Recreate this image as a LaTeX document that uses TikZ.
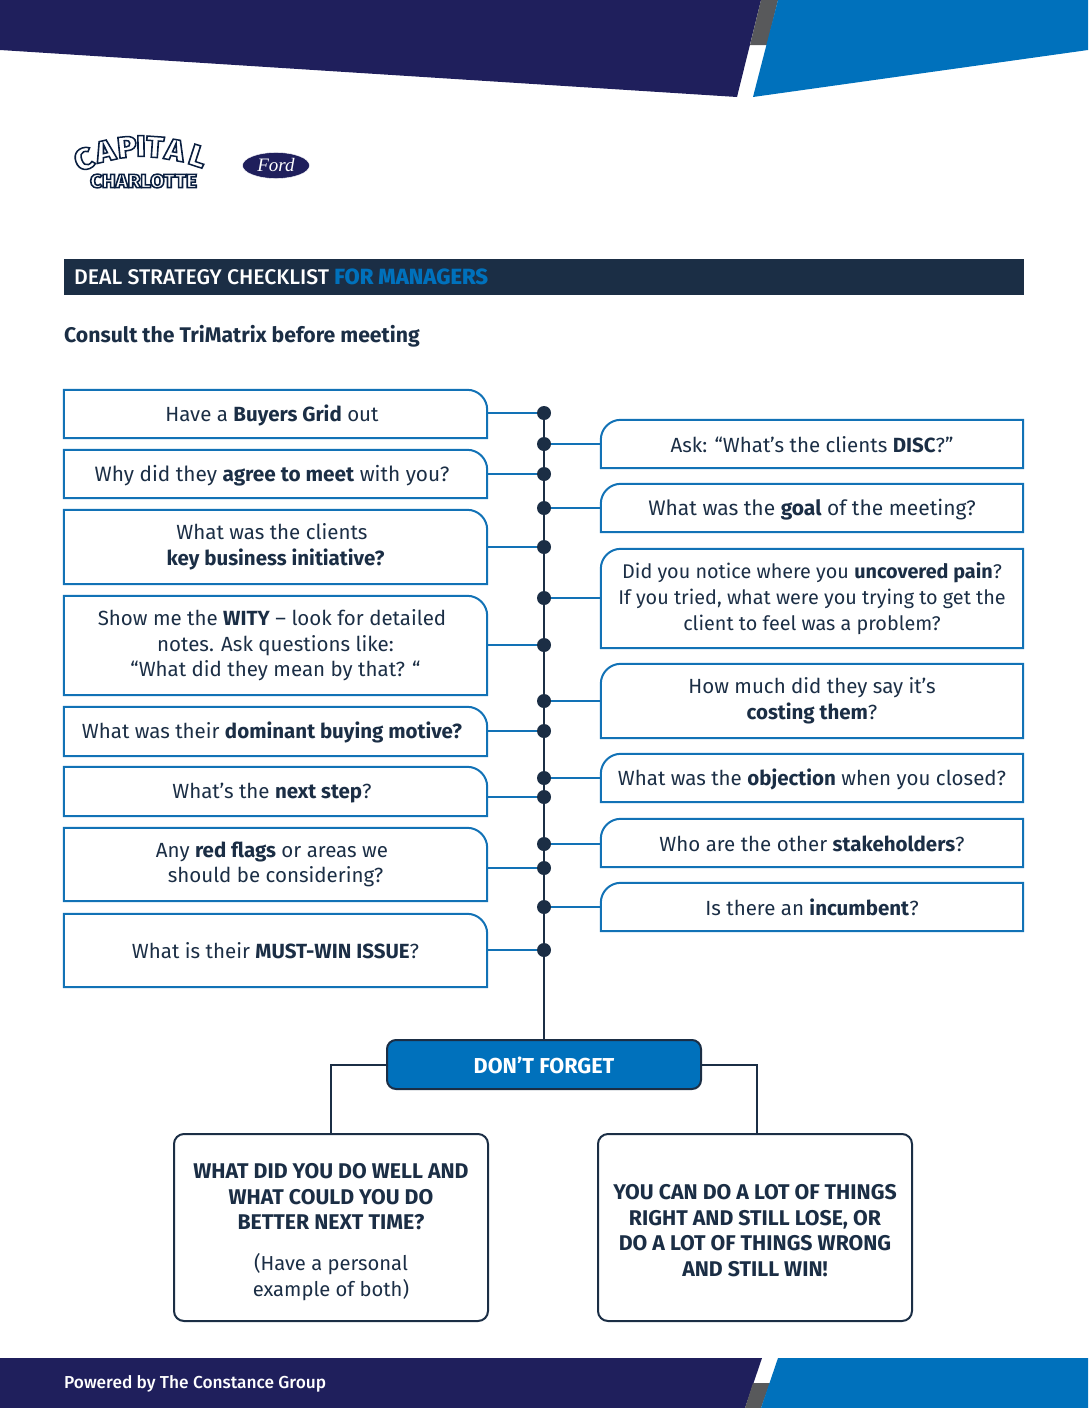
\documentclass[tikz,border=0pt]{standalone}
\usepackage{fontspec}
\setmainfont{Fira Sans}
\newfontfamily\medfont{Fira Sans Medium}
\newfontfamily\heavyfont{Fira Sans ExtraBold}
\newfontfamily\fordfont{Liberation Serif}
\usetikzlibrary{shapes.geometric}
\definecolor{bannernavy}{HTML}{1F1F5C}
\definecolor{bannerblue}{HTML}{0071BC}
\definecolor{bannergrey}{HTML}{58595B}
\definecolor{inkdark}{HTML}{1B2E45}
\definecolor{lineblue}{HTML}{1272B6}
% white letters with a dark rim
\newcommand{\logotext}[1]{\scalebox{1.08}[1]{\special{pdf:code 2 Tr 1.5 w 0.04 0.12 0.25 RG}#1\special{pdf:code 0 Tr}}}
\newcommand{\nudge}{\hspace*{7pt}}
\newcommand{\linetop}{\rule{0pt}{19pt}}
\newcommand{\linebot}{\rule[-3pt]{0pt}{3pt}}
\newcommand{\notetop}{\rule{0pt}{21pt}}
\newcommand{\notebot}{\rule[-1pt]{0pt}{1pt}}
\begin{document}
\begin{tikzpicture}[x=1pt, y=-1pt]
        \tikzstyle{box_text}    = [align = center, inner sep = 0pt, text = inkdark,
                                   font = \fontsize{20.5}{25.6}\selectfont,
                                   execute at begin node = \linetop, execute at end node = \linebot]
        \tikzstyle{box_line}    = [draw = lineblue, line width = 2pt]
        \tikzstyle{box_left}    = [box_text, minimum width = 423pt,
          append after command = {\pgfextra{\draw[box_line]
            (\tikzlastnode.south west) -- (\tikzlastnode.north west)
            -- ([xshift=-20pt]\tikzlastnode.north east)
            arc[start angle=90, end angle=0, radius=20pt]
            -- (\tikzlastnode.south east) -- cycle;}}]
        \tikzstyle{box_right}   = [box_text, minimum width = 422pt,
          append after command = {\pgfextra{\draw[box_line]
            (\tikzlastnode.south east) -- (\tikzlastnode.north east)
            -- ([xshift=20pt]\tikzlastnode.north west)
            arc[start angle=90, end angle=180, radius=20pt]
            -- (\tikzlastnode.south west) -- cycle;}}]
        \tikzstyle{dot_node}    = [shape = circle, fill = inkdark, inner sep = 0pt, minimum size = 14pt]
        \tikzstyle{note_box}    = [shape = rectangle, rounded corners = 10pt, draw = inkdark, line width = 2pt,
                                   minimum width = 314pt, minimum height = 187pt, align = center,
                                   inner sep = 0pt, text = inkdark,
                                   font = \fontsize{21.3}{25.6}\selectfont,
                                   execute at begin node = \notetop, execute at end node = \notebot]
        \tikzstyle{link_left}   = [draw = lineblue, line width = 2pt]
        \tikzstyle{link_dark}   = [draw = inkdark, line width = 2pt]
        \tikzstyle{logo_big}    = [inner sep = 0pt, text = white, font = \fontsize{30}{30}\heavyfont]
        \tikzstyle{logo_small}  = [inner sep = 0pt, text = white, font = \fontsize{19}{19}\heavyfont]

        \useasboundingbox (0, 0) rectangle (1088, 1408);

        % top and bottom bands
        \fill[bannernavy] (0, 0) -- (761, 0) -- (737, 97) -- (0, 50) -- cycle;
        \fill[bannergrey] (761, 0) -- (778, 0) -- (767, 45) -- (750, 45) -- cycle;
        \fill[bannerblue] (778, 0) -- (1088, 0) -- (1088, 50) -- (753, 97) -- cycle;
        \fill[bannernavy] (0, 1358) -- (762, 1358) -- (745, 1408) -- (0, 1408) -- cycle;
        \fill[bannergrey] (753, 1383) -- (770, 1383) -- (761, 1408) -- (745, 1408) -- cycle;
        \fill[bannerblue] (778, 1358) -- (1088, 1358) -- (1088, 1408) -- (761, 1408) -- cycle;
        \node[anchor = west, inner sep = 0pt, text = white, font = \fontsize{17.3}{20}\medfont]
          at (64, 1384) (footer) {Powered by The Constance Group};

        % logos
        \foreach \ch/\lx/\ly/\rot in {C/84/159/20, A/105/151/13, P/127/147/6, I/141/146/1,
                                      T/155/147/-4, A/175/150/-10, L/198/156/-18} {
          \node[logo_big, rotate = \rot] at (\lx, \ly) (cap_\lx) {\logotext{\ch}};
        }
        \node[logo_small] at (143.5, 181) (logo_town) {\logotext{CHARLOTTE}};
        \node[shape = ellipse, fill = bannernavy, draw = white, inner sep = 0pt,
              minimum width = 67pt, minimum height = 26pt, text = white,
              font = \fontsize{19}{19}\fordfont\itshape]
          at (276, 165.5) (ford) {Ford};

        % heading
        \fill[inkdark] (64, 259) rectangle (1024, 295);
        \node[anchor = west, inner sep = 0pt, text = white, font = \fontsize{21.2}{25}\medfont]
          at (74, 277) (title) {DEAL STRATEGY CHECKLIST \textcolor{bannerblue}{\fontsize{22}{25}\selectfont\bfseries FOR MANAGERS}};
        \node[anchor = west, inner sep = 0pt, text = inkdark, font = \fontsize{21.2}{25}\selectfont\bfseries]
          at (64, 336) (consult) {Consult the TriMatrix before meeting};

        % left column
        \node[box_left, minimum height = 48pt] at (275.5, 414) (l_grid) {Have a \textbf{Buyers Grid} out\nudge};
        \node[box_left, minimum height = 48pt, font = \fontsize{20.8}{25.6}\selectfont] at (275.5, 474) (l_meet) {Why did they \textbf{agree to meet} with you?\nudge};
        \node[box_left, minimum height = 74pt] at (275.5, 547) (l_init) {What was the clients\nudge\\\textbf{key business initiative?}};
        \node[box_left, minimum height = 99pt] at (275.5, 645.5) (l_wity) {Show me the \textbf{WITY} -- look for detailed\nudge\\notes. Ask questions like:\\“What did they mean by that? “};
        \node[box_left, minimum height = 49pt] at (275.5, 731.5) (l_motive) {What was their \textbf{dominant buying motive?}\nudge};
        \node[box_left, minimum height = 49pt] at (275.5, 791.5) (l_step) {What’s the \textbf{next step}?\nudge};
        \node[box_left, minimum height = 73pt] at (275.5, 864.5) (l_flags) {Any \textbf{red flags} or areas we\nudge\\should be considering?};
        \node[box_left, minimum height = 73pt] at (275.5, 950.5) (l_issue) {What is their \textbf{MUST-WIN ISSUE}?};

        % right column
        \node[box_right, minimum height = 48pt] at (812, 444) (r_disc) {Ask: “What’s the clients \textbf{DISC}?”};
        \node[box_right, minimum height = 48pt, font = \fontsize{21}{25.6}\selectfont] at (812, 508) (r_goal) {What was the \textbf{goal} of the meeting?};
        \node[box_right, minimum height = 99pt, font = \fontsize{19.8}{25.6}\selectfont] at (812, 598.5) (r_pain) {Did you notice where you \textbf{uncovered pain}?\\If you tried, what were you trying to get the\\client to feel was a problem?};
        \node[box_right, minimum height = 74pt] at (812, 701) (r_cost) {How much did they say it’s\\\textbf{costing them}?};
        \node[box_right, minimum height = 48pt] at (812, 778) (r_object) {What was the \textbf{objection} when you closed?};
        \node[box_right, minimum height = 48pt] at (812, 843) (r_stake) {Who are the other \textbf{stakeholders}?};
        \node[box_right, minimum height = 48pt] at (812, 907) (r_incumb) {Is there an \textbf{incumbent}?};

        % spine
        \node[dot_node] at (544, 413) (d1) {};
        \node[dot_node] at (544, 444) (d2) {};
        \node[dot_node] at (544, 474) (d3) {};
        \node[dot_node] at (544, 508) (d4) {};
        \node[dot_node] at (544, 547) (d5) {};
        \node[dot_node] at (544, 598) (d6) {};
        \node[dot_node] at (544, 645) (d7) {};
        \node[dot_node] at (544, 701) (d8) {};
        \node[dot_node] at (544, 731) (d9) {};
        \node[dot_node] at (544, 778) (d10) {};
        \node[dot_node] at (544, 797) (d11) {};
        \node[dot_node] at (544, 844) (d12) {};
        \node[dot_node] at (544, 868) (d13) {};
        \node[dot_node] at (544, 907) (d14) {};
        \node[dot_node] at (544, 950) (d15) {};

        % bottom boxes
        \node[shape = rectangle, rounded corners = 9pt, draw = inkdark, fill = bannerblue, line width = 2pt,
              minimum width = 314pt, minimum height = 49pt, inner sep = 0pt, text = white,
              font = \fontsize{21.6}{25}\selectfont\bfseries,
              execute at begin node = \notetop, execute at end node = \linebot]
          at (544, 1064.5) (forget) {DON’T FORGET};
        \node[note_box] at (331, 1227.5) (n_well) {\rule{0pt}{24pt}\textbf{WHAT DID YOU DO WELL AND}\\\textbf{WHAT COULD YOU DO}\\\textbf{BETTER NEXT TIME?}\\[15pt]\fontsize{20.2}{25.6}\selectfont(Have a personal\\\fontsize{20.2}{25.6}\selectfont example of both)};
        \node[note_box] at (755, 1227.5) (n_win) {\rule{0pt}{22pt}\textbf{YOU CAN DO A LOT OF THINGS}\\\textbf{RIGHT AND STILL LOSE, OR}\\\textbf{DO A LOT OF THINGS WRONG}\\\textbf{AND STILL WIN!}};

        \draw[link_dark] (d1) -- (forget);
        \draw[link_dark] (forget.west) -| (n_well.north);
        \draw[link_dark] (forget.east) -| ([xshift=2pt]n_win.north);

        \draw[link_left]
          (d1 -| l_grid.east) -- (d1)
          (d3 -| l_meet.east) -- (d3)
          (d5 -| l_init.east) -- (d5)
          (d7 -| l_wity.east) -- (d7)
          (d9 -| l_motive.east) -- (d9)
          (d11 -| l_step.east) -- (d11)
          (d13 -| l_flags.east) -- (d13)
          (d15 -| l_issue.east) -- (d15)
          (d2 -| r_disc.west) -- (d2)
          (d4 -| r_goal.west) -- (d4)
          (d6 -| r_pain.west) -- (d6)
          (d8 -| r_cost.west) -- (d8)
          (d10 -| r_object.west) -- (d10)
          (d12 -| r_stake.west) -- (d12)
          (d14 -| r_incumb.west) -- (d14)
        ;
      \end{tikzpicture}
\end{document}
